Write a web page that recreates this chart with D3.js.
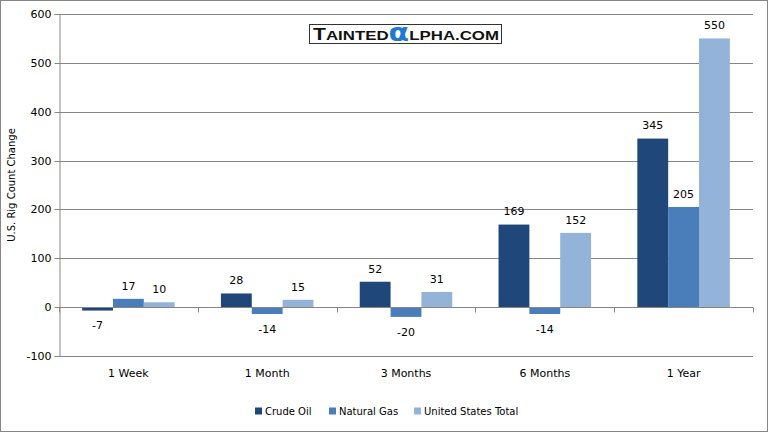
<!DOCTYPE html>
<html>
<head>
<meta charset="utf-8">
<script src="https://cdn.jsdelivr.net/npm/d3@7"></script>
<style>
  html, body { margin: 0; padding: 0; background: #fff; }
  svg { display: block; font-family: "DejaVu Sans", Verdana, sans-serif; }
</style>
</head>
<body>
<div id="chart"></div>
<script>
// chart data
const periods = ["1 Week", "1 Month", "3 Months", "6 Months", "1 Year"];
const seriesNames = ["Crude Oil", "Natural Gas", "United States Total"];
const crudeOil = [-7, 28, 52, 169, 345];
const naturalGas = [17, -14, -20, -14, 205];
const usTotal = [10, 15, 31, 152, 550];
const yTicks = [-100, 0, 100, 200, 300, 400, 500, 600];

const colors = ["#1f477a", "#4a7ebb", "#93b3d8"];
const seriesValues = [crudeOil, naturalGas, usTotal];

const width = 769, height = 433;
const margin = {left: 59, right: 16, top: 14, bottom: 77};

const svg = d3.select("#chart").append("svg")
    .attr("width", width)
    .attr("height", height);

// outer border
svg.append("rect")
    .attr("x", 0.5).attr("y", 0.5)
    .attr("width", width - 2).attr("height", height - 2)
    .attr("fill", "#fff")
    .attr("stroke", "#868686");

const x0 = d3.scaleBand()
    .domain(periods)
    .range([margin.left, width - margin.right])
    .paddingInner(0)
    .paddingOuter(0);

// gap width 150% -> outer padding of 0.75 bar on each side
const x1 = d3.scaleBand()
    .domain(seriesNames)
    .range([0, x0.bandwidth()])
    .paddingInner(0)
    .paddingOuter(0.75);

const y = d3.scaleLinear()
    .domain([-100, 600])
    .range([height - margin.bottom, margin.top]);

// gridlines
svg.append("g")
  .selectAll("line")
  .data(yTicks)
  .join("line")
    .attr("x1", margin.left)
    .attr("x2", width - margin.right)
    .attr("y1", d => Math.round(y(d)) + 0.5)
    .attr("y2", d => Math.round(y(d)) + 0.5)
    .attr("stroke", "#868686");

// y axis
const yAxis = svg.append("g")
    .attr("transform", `translate(${margin.left + 0.5},0)`)
    .call(d3.axisLeft(y).tickValues(yTicks).tickSize(5).tickPadding(3)
        .tickFormat(d => String(d)));
yAxis.select(".domain").attr("stroke", "#868686");
yAxis.selectAll(".tick line").attr("stroke", "#868686");
yAxis.selectAll(".tick").attr("transform", d => `translate(0,${Math.round(y(d)) + 0.5})`);
yAxis.selectAll("text")
    .attr("font-size", 11)
    .attr("font-family", "DejaVu Sans, Verdana, sans-serif")
    .attr("fill", "#000");

// y axis title
svg.append("text")
    .attr("transform", `translate(15,${(margin.top + y(-100)) / 2}) rotate(-90)`)
    .attr("text-anchor", "middle")
    .attr("font-size", 10)
    .attr("fill", "#000")
    .text("U.S. Rig Count Change");

// bars
const groups = svg.append("g")
  .selectAll("g")
  .data(periods)
  .join("g")
    .attr("transform", d => `translate(${x0(d)},0)`);

const barData = (p, i) => seriesNames.map((s, k) => ({series: s, k: k, value: seriesValues[k][i]}));

groups.selectAll("rect")
  .data(barData)
  .join("rect")
    .attr("x", d => x1(d.series))
    .attr("width", x1.bandwidth())
    .attr("y", d => y(Math.max(0, d.value)))
    .attr("height", d => Math.abs(y(d.value) - y(0)))
    .attr("fill", d => colors[d.k]);

groups.selectAll("text")
  .data(barData)
  .join("text")
    .attr("x", d => x1(d.series) + x1.bandwidth() / 2)
    .attr("y", d => d.value >= 0 ? y(d.value) - 13 : y(d.value) + 15)
    .attr("dy", "0.35em")
    .attr("text-anchor", "middle")
    .attr("font-size", 11)
    .attr("fill", "#000")
    .text(d => String(d.value));

// x axis on zero line
const zeroY = Math.round(y(0)) + 0.5;
svg.append("line")
    .attr("x1", margin.left).attr("x2", width - margin.right)
    .attr("y1", zeroY).attr("y2", zeroY)
    .attr("stroke", "#868686");

const boundaries = periods.map(p => x0(p)).concat([x0.range()[1]]);
svg.append("g")
  .selectAll("line")
  .data(boundaries)
  .join("line")
    .attr("x1", d => Math.round(d) + 0.5)
    .attr("x2", d => Math.round(d) + 0.5)
    .attr("y1", zeroY)
    .attr("y2", zeroY + 5)
    .attr("stroke", "#868686");

svg.append("g")
  .selectAll("text")
  .data(periods)
  .join("text")
    .attr("x", d => x0(d) + x0.bandwidth() / 2)
    .attr("y", y(-100) + 17)
    .attr("dy", "0.35em")
    .attr("text-anchor", "middle")
    .attr("font-size", 11)
    .attr("fill", "#000")
    .text(d => d);

// legend
const legendX = [255, 329, 414];
const legend = svg.append("g")
  .selectAll("g")
  .data(seriesNames)
  .join("g")
    .attr("transform", (d, i) => `translate(${legendX[i]},411)`);
legend.append("rect")
    .attr("x", 0).attr("y", -3.5)
    .attr("width", 7).attr("height", 7)
    .attr("fill", (d, i) => colors[i]);
legend.append("text")
    .attr("x", 10)
    .attr("dy", "0.35em")
    .attr("font-size", 10)
    .attr("fill", "#000")
    .text(d => d);

// logo
const logo = svg.append("g");
logo.append("rect")
    .attr("x", 309.5).attr("y", 24.5)
    .attr("width", 192).attr("height", 19)
    .attr("fill", "#fff")
    .attr("stroke", "#333")
    .attr("stroke-width", 1);
const logoText = logo.append("text")
    .attr("x", 313)
    .attr("y", 40)
    .attr("textLength", 186)
    .attr("lengthAdjust", "spacingAndGlyphs")
    .attr("font-family", "Liberation Sans, Arial, sans-serif")
    .attr("font-weight", "bold")
    .attr("fill", "#111");
logoText.append("tspan").attr("font-size", 17).text("T");
logoText.append("tspan").attr("font-size", 13.5).text("AINTED");
logoText.append("tspan").attr("font-size", 24).attr("fill", "#1f7bd1")
    .attr("font-family", "DejaVu Sans, sans-serif").attr("dy", 1).text("α");
logoText.append("tspan").attr("font-size", 13.5).attr("dy", -1).text("LPHA.COM");
</script>
</body>
</html>
